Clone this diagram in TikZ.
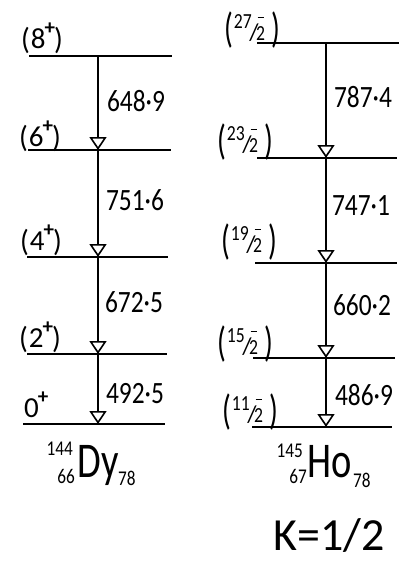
\documentclass[tikz,border=0pt]{standalone}
\usepackage{fontspec}
\usepackage{graphicx}
\setmainfont{Carlito}
\usetikzlibrary{arrows.meta}
\newcommand\nar[1]{\scalebox{0.82}[1]{#1}}
\newcommand\ensz{\fontsize{31}{31}\selectfont}
\newcommand\spsz{\fontsize{29}{29}\selectfont}
\newcommand\frsz{\fontsize{21.5}{21.5}\selectfont}
\newcommand\pls{\raisebox{14pt}{\fontsize{21}{21}\selectfont\bfseries +}}
\newcommand\ispin[1]{{\spsz\raisebox{-1pt}{\scalebox{1}[1.05]{(}}\kern1pt#1\kern-1pt\pls\kern-1pt\raisebox{-1pt}{\scalebox{1}[1.05]{)}}}}
\newcommand\hpar[1]{\raisebox{-2pt}{\scalebox{1}[1.45]{\spsz#1}}}
\newcommand\hspin[1]{\hpar{(}\kern1pt\raisebox{12pt}{\frsz\nar{#1}}\kern-2.5pt{\fontsize{24}{24}\selectfont/}\kern-2.5pt{\frsz\rlap{\raisebox{22pt}{\kern1.5pt\rule{6.5pt}{1.5pt}}}\nar{2}}\kern6pt\hpar{)}}
\tikzset{
  lvl/.style={line width=1.8pt},
  tr/.style={line width=1.4pt,-{Triangle[open,width=17pt,length=13pt,line width=1.6pt]}},
  en/.style={inner sep=0pt,anchor=center,font=\ensz},
  sp/.style={inner sep=0pt,anchor=base west},
  nuc/.style={inner sep=0pt,anchor=base,font=\fontsize{50}{50}\selectfont},
  nsm/.style={inner sep=0pt,font=\fontsize{21}{21}\selectfont},
}
\begin{document}
\begin{tikzpicture}[x=1pt,y=-1pt]
\useasboundingbox[fill=white] (0,0) rectangle (414,563);
% Dy levels
\coordinate (d8) at (98,56);
\coordinate (d6) at (98,150);
\coordinate (d4) at (98,257);
\coordinate (d2) at (98,354);
\coordinate (d0) at (98,424);
\draw[lvl] (29,56) -- (172,56);
\draw[lvl] (28,150) -- (171,150);
\draw[lvl] (27,257) -- (168,257);
\draw[lvl] (27,354) -- (167,354);
\draw[lvl] (23,424) -- (165,424);
\draw[tr] (d8) -- (d6);
\draw[tr] (d6) -- (d4);
\draw[tr] (d4) -- (d2);
\draw[tr] (d2) -- (d0);
\node[sp] (s8) at (21,48) {\ispin{8}};
\node[sp] (s6) at (19,146) {\ispin{6}};
\node[sp] (s4) at (20,250) {\ispin{4}};
\node[sp] (s2) at (19,347) {\ispin{2}};
\node[sp] (s0) at (24,417) {{\spsz 0\kern-1pt\pls}};
\node[en] (e1) at (136,101) {\nar{648·9}};
\node[en] (e2) at (135,200) {\nar{751·6}};
\node[en] (e3) at (134,302) {\nar{672·5}};
\node[en] (e4) at (135,394) {\nar{492·5}};
% Ho levels
\coordinate (h27) at (326,43);
\coordinate (h23) at (326,158);
\coordinate (h19) at (326,263);
\coordinate (h15) at (326,358);
\coordinate (h11) at (326,427);
\draw[lvl] (257,43) -- (399,43);
\draw[lvl] (257,158) -- (397,158);
\draw[lvl] (255,263) -- (397,263);
\draw[lvl] (253,358) -- (395,358);
\draw[lvl] (252,427) -- (392,427);
\draw[tr] (h27) -- (h23);
\draw[tr] (h23) -- (h19);
\draw[tr] (h19) -- (h15);
\draw[tr] (h15) -- (h11);
\node[sp] (t27) at (224,40) {\hspin{27}};
\node[sp] (t23) at (217,152) {\hspin{23}};
\node[sp] (t19) at (221,252) {\hspin{19}};
\node[sp] (t15) at (217,354) {\hspin{15}};
\node[sp] (t11) at (222,422) {\hspin{11}};
\node[en] (f1) at (363,97) {\nar{787·4}};
\node[en] (f2) at (361,206) {\nar{747·1}};
\node[en] (f3) at (362,305) {\nar{660·2}};
\node[en] (f4) at (364,395) {\nar{486·9}};
% nuclide labels
\node[nuc] (dy) at (98,477) {\scalebox{0.77}[1]{Dy}};
\node[nsm,anchor=base east] (dya) at (73,455) {\nar{144}};
\node[nsm,anchor=base east] (dyz) at (75,483) {\nar{66}};
\node[nsm,anchor=base west] (dyn) at (118,485) {\nar{78}};
\node[nuc] (ho) at (330,477) {\scalebox{0.77}[1]{Ho}};
\node[nsm,anchor=base east] (hoa) at (303,457) {\nar{145}};
\node[nsm,anchor=base east] (hoz) at (307,483) {\nar{67}};
\node[nsm,anchor=base west] (hon) at (353,487) {\nar{78}};
\node[inner sep=0pt,font=\fontsize{46}{46}\selectfont] (k) at (329,536) {K=1/2};
\end{tikzpicture}
\end{document}
